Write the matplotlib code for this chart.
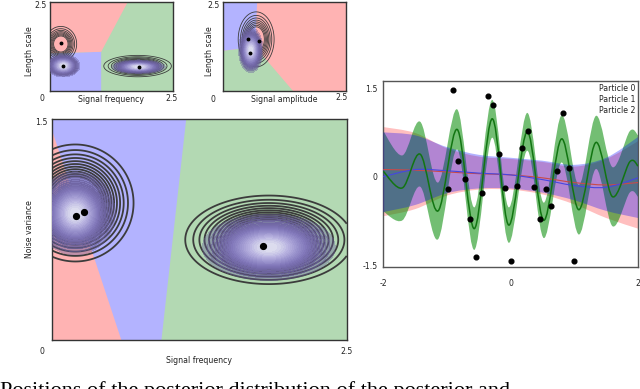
import numpy as np
import matplotlib.pyplot as plt
from matplotlib.path import Path
from matplotlib.patches import PathPatch, Polygon
from matplotlib.colors import LinearSegmentedColormap

# ---- hyperparameter panels -------------------------------------------------
# region corners (x, y) of the particle partitions
big_blue_region = [(0, 1.5), (1.14, 1.5), (0.93, 0), (0, 0)]
big_red_region = [(0, 0), (0, 1.43), (0.59, 0)]
a_blue_region = [(0, 0), (0, 1.06), (1.04, 1.10), (1.04, 0)]
a_red_region = [(0, 1.06), (1.04, 1.10), (1.58, 2.5), (0, 2.5)]
b_green_region = [(0, 0), (0, 1.13), (0.66, 1.24), (1.43, 0)]
b_blue_region = [(0, 1.13), (0.66, 1.24), (0.70, 2.5), (0, 2.5)]

# posterior blobs: (centre x, centre y, spread x, spread y)
big_line_blobs = [(0.20, 0.93, 0.23, 0.185), (1.84, 0.68, 0.33, 0.14)]
big_fill_blobs = [(0.20, 0.86, 0.15, 0.125), (1.84, 0.63, 0.25, 0.10)]
a_line_blobs = [(0.22, 1.32, 0.15, 0.23), (1.78, 0.70, 0.32, 0.14)]
a_fill_blobs = [(0.27, 0.71, 0.15, 0.14), (1.80, 0.68, 0.24, 0.085)]
b_line_blobs = [(0.68, 1.45, 0.17, 0.36)]
b_fill_blobs = [(0.57, 1.15, 0.11, 0.28)]

# particle positions
big_px = [0.21, 0.27, 1.79]
big_py = [0.845, 0.87, 0.64]
a_px = [0.22, 0.27, 1.80]
a_py = [1.34, 0.71, 0.68]
b_px = [0.51, 0.55, 0.74]
b_py = [1.46, 1.08, 1.41]

# ---- GP panel ----------------------------------------------------------------
obs_x = [-0.905, -0.36, -0.27, 0.82, 0.28, 0.18, -0.18, -0.82, 0.73, 0.91, -0.72, -0.99,
         -0.09, 0.095, 0.36, 0.55, -0.45, 0.64, -0.64, 0.46, -0.54, 0.005, 1.0]
obs_y = [1.46, 1.37, 1.21, 1.07, 0.78, 0.48, 0.38, 0.26, 0.10, 0.14, -0.04, -0.21,
         -0.20, -0.15, -0.17, -0.21, -0.28, -0.50, -0.72, -0.72, -1.36, -1.42, -1.42]

g_x = [-2.0, -1.70, -1.42, -1.14, -0.84, -0.57, -0.29, -0.03, 0.26, 0.52, 0.80, 1.07, 1.34, 1.60, 1.87, 2.0]
g_mean = [0.09, -0.19, 0.38, -0.58, 0.80, -0.88, 0.98, -0.82, 0.76, -0.74, 0.64, -0.56, 0.58, -0.34, 0.25, 0.18]
g_half = [0.68, 0.55, 0.55, 0.48, 0.34, 0.36, 0.32, 0.30, 0.32, 0.30, 0.40, 0.42, 0.45, 0.50, 0.52, 0.52]

rb_x = [-2, -1.5, -1, -0.5, 0, 0.5, 1, 1.5, 2]
red_mean = [0.12, 0.11, 0.08, 0.05, 0.03, -0.02, -0.10, -0.14, -0.10]
red_upper = [0.84, 0.74, 0.48, 0.34, 0.30, 0.25, 0.17, 0.30, 0.60]
red_lower = [-0.67, -0.55, -0.32, -0.22, -0.22, -0.30, -0.47, -0.70, -0.88]
blue_mean = [0.0, 0.12, 0.10, 0.06, 0.03, -0.05, -0.15, -0.18, -0.02]
blue_upper = [0.75, 0.70, 0.50, 0.37, 0.32, 0.27, 0.20, 0.32, 0.67]
blue_lower = [-0.60, -0.48, -0.28, -0.20, -0.20, -0.27, -0.40, -0.58, -0.70]

particle_labels = ["Particle 0", "Particle 1", "Particle 2"]

PINK = "#ffb3b3"
LBLUE = "#b3b3ff"
LGREEN = "#b3d9b3"
TXT = "#222222"
FS = 5.6

purple = LinearSegmentedColormap.from_list(
    "post", [(0.40, 0.36, 0.60, 0.35), (0.43, 0.39, 0.63, 0.85), (0.50, 0.46, 0.72, 1.0),
             (0.60, 0.57, 0.80, 1.0), (0.72, 0.70, 0.88, 1.0), (0.88, 0.88, 0.94, 1.0)])


def smooth(xs, ys):
    # Catmull-Rom through the read points, drawn as cubic Bezier segments
    n = len(xs)
    verts = [(xs[0], ys[0])]
    codes = [Path.MOVETO]
    for i in range(n - 1):
        a = max(i - 1, 0)
        d = min(i + 2, n - 1)
        c1 = (xs[i] + (xs[i + 1] - xs[a]) / 6, ys[i] + (ys[i + 1] - ys[a]) / 6)
        c2 = (xs[i + 1] - (xs[d] - xs[i]) / 6, ys[i + 1] - (ys[d] - ys[i]) / 6)
        verts += [c1, c2, (xs[i + 1], ys[i + 1])]
        codes += [Path.CURVE4] * 3
    return verts, codes


def band(ax, xs, lo, hi, **kw):
    v1, c1 = smooth(xs, hi)
    v2, c2 = smooth(xs, lo)
    verts = v1 + v2[::-1] + [v1[0]]
    codes = c1 + [Path.LINETO] + [Path.CURVE4] * (len(v2) - 1) + [Path.CLOSEPOLY]
    ax.add_patch(PathPatch(Path(verts, codes), lw=0, **kw))


def curve(ax, xs, ys, **kw):
    v, c = smooth(xs, ys)
    ax.add_patch(PathPatch(Path(v, c), fill=False, **kw))


def field(X, Y, blobs):
    Z = np.zeros_like(X)
    for cx, cy, sx, sy in blobs:
        Z = np.maximum(Z, np.exp(-0.5 * (((X - cx) / sx) ** 2 + ((Y - cy) / sy) ** 2)))
    return Z


def hyper_panel(ax, ymax, face, regions, line_blobs, fill_blobs, px, py, lw, ms, nlev):
    ax.set_facecolor(face)
    for verts, col in regions:
        ax.add_patch(Polygon(verts, closed=True, fc=col, ec="none", zorder=0))
    X, Y = np.meshgrid(np.linspace(0, 2.5, 400), np.linspace(0, ymax, 300))
    ax.contour(X, Y, field(X, Y, line_blobs), levels=np.linspace(0.1, 0.62, nlev),
               colors="#3c3c3c", linewidths=lw, zorder=2)
    ax.contourf(X, Y, field(X, Y, fill_blobs), levels=np.linspace(0.08, 1.0, 26),
                cmap=purple, zorder=3)
    ax.plot(px, py, "o", color="black", ms=ms, zorder=4)
    ax.set_xlim(0, 2.5)
    ax.set_ylim(0, ymax)
    ax.set_xticks([])
    ax.set_yticks([])
    for s in ax.spines.values():
        s.set_color("#333333")
        s.set_linewidth(1.0)


def corner_text(ax, x, y, s, **kw):
    ax.text(x, y, s, transform=ax.transAxes, ha="center", va="center",
            fontsize=FS, color=TXT, **kw)


fig = plt.figure(figsize=(6.4, 3.89), dpi=100)

# top-left: frequency vs length scale
ax_a = fig.add_axes([50 / 640, 1 - 91 / 389, 123 / 640, 89 / 389])
hyper_panel(ax_a, 2.5, LGREEN, [(a_blue_region, LBLUE), (a_red_region, PINK)],
            a_line_blobs, a_fill_blobs, a_px, a_py, 0.6, 1.8, 8)
corner_text(ax_a, -0.08, 0.965, "2.5")
corner_text(ax_a, -0.065, -0.08, "0")
corner_text(ax_a, 0.99, -0.08, "2.5")
corner_text(ax_a, 0.5, -0.1, "Signal frequency")
corner_text(ax_a, -0.163, 0.45, "Length scale", rotation=90)

# top-middle: amplitude vs length scale
ax_b = fig.add_axes([222.7 / 640, 1 - 91 / 389, 123 / 640, 89 / 389])
hyper_panel(ax_b, 2.5, PINK, [(b_green_region, LGREEN), (b_blue_region, LBLUE)],
            b_line_blobs, b_fill_blobs, b_px, b_py, 0.6, 1.8, 8)
corner_text(ax_b, -0.076, 0.965, "2.5")
corner_text(ax_b, -0.076, -0.09, "0")
corner_text(ax_b, 0.967, -0.07, "2.5")
corner_text(ax_b, 0.5, -0.1, "Signal amplitude")
corner_text(ax_b, -0.11, 0.45, "Length scale", rotation=90)

# bottom-left: frequency vs noise variance
ax_c = fig.add_axes([51.7 / 640, 1 - 340 / 389, 295 / 640, 221 / 389])
hyper_panel(ax_c, 1.5, LGREEN, [(big_blue_region, LBLUE), (big_red_region, PINK)],
            big_line_blobs, big_fill_blobs, big_px, big_py, 1.3, 4.2, 11)
corner_text(ax_c, -0.036, 0.986, "1.5")
corner_text(ax_c, -0.033, -0.054, "0")
corner_text(ax_c, 1.0, -0.054, "2.5")
corner_text(ax_c, 0.5, -0.095, "Signal frequency")
corner_text(ax_c, -0.074, 0.5, "Noise variance", rotation=90)

# right: GP fits of the three particles
ax_d = fig.add_axes([383.3 / 640, 1 - 267 / 389, 254.7 / 640, 186 / 389])
band(ax_d, rb_x, red_lower, red_upper, fc="red", alpha=0.25, zorder=1)
band(ax_d, g_x, [m - h for m, h in zip(g_mean, g_half)], [m + h for m, h in zip(g_mean, g_half)],
     fc="#008a00", alpha=0.55, zorder=2)
band(ax_d, rb_x, blue_lower, blue_upper, fc="blue", alpha=0.3, zorder=3)
curve(ax_d, rb_x, red_mean, ec="#c84a4a", lw=0.8, zorder=4)
curve(ax_d, rb_x, blue_mean, ec="#4646e0", lw=0.8, zorder=4)
curve(ax_d, g_x, g_mean, ec="#127512", lw=1.1, zorder=5)
ax_d.plot(obs_x, obs_y, "o", color="black", ms=3.4, zorder=6)
for i, lab in enumerate(particle_labels):
    ax_d.text(0.99, 0.96 - i * 0.058, lab, transform=ax_d.transAxes, ha="right", va="center",
              fontsize=FS, color=TXT)
ax_d.set_xlim(-2, 2)
ax_d.set_ylim(-1.53, 1.62)
ax_d.set_xticks([-2, 0, 2])
ax_d.set_xticklabels(["-2", "0", "2"])
ax_d.set_yticks([-1.5, 0, 1.5])
ax_d.set_yticklabels(["-1.5", "0", "1.5"])
ax_d.tick_params(length=0, labelsize=FS, labelcolor=TXT)
ax_d.tick_params(axis="x", pad=9)
ax_d.tick_params(axis="y", pad=4)
for s in ax_d.spines.values():
    s.set_color("#555555")
    s.set_linewidth(1.0)

# caption, cut off by the bottom edge as in the source image
fig.text(0.0, 1 - 381 / 389, "Positions of the posterior distribution of the posterior and",
         ha="left", va="top", fontsize=16, family="Liberation Serif", color="black")

fig.savefig("out.png", dpi=100)
